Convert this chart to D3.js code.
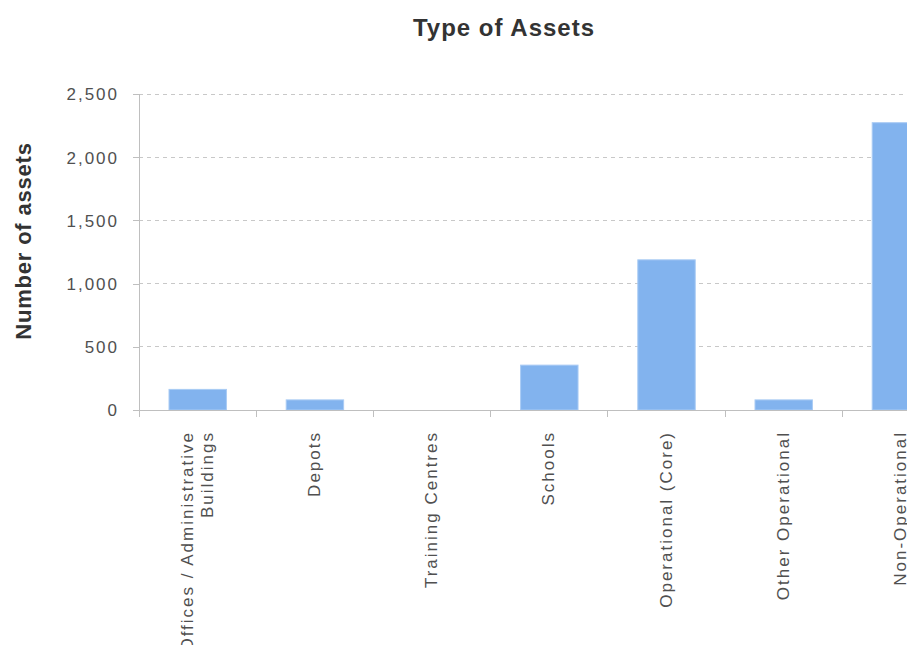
<!DOCTYPE html>
<html>
<head>
<meta charset="utf-8">
<script src="https://cdn.jsdelivr.net/npm/d3@7"></script>
<style>
  html, body { margin: 0; padding: 0; background: #fff; overflow: hidden; }
  text { font-family: "Liberation Sans", Arial, sans-serif; }
</style>
</head>
<body>
<script>
const title = "Type of Assets";
const yTitle = "Number of assets";
const categories = [
  ["Offices / Administrative", "Buildings"],
  ["Depots"],
  ["Training Centres"],
  ["Schools"],
  ["Operational (Core)"],
  ["Other Operational"],
  ["Non-Operational"]
];
const values = [163, 80, 0, 355, 1188, 80, 2273];
const yTicks = [0, 500, 1000, 1500, 2000, 2500];

const W = 907, H = 645;
const plotLeft = 139, bandStep = 117.2, plotTop = 94, plotBottom = 410;
const keys = categories.map(c => c.join(" "));

const svg = d3.select("body").append("svg")
  .attr("width", W).attr("height", H)
  .style("display", "block");

const x = d3.scaleBand().domain(keys).range([plotLeft, plotLeft + bandStep * keys.length]).padding(0);
const y = d3.scaleLinear().domain([0, 2500]).range([plotBottom, plotTop]);
const fmt = d3.format(",");

// gridlines
svg.append("g").selectAll("line").data(yTicks.filter(d => d > 0)).join("line")
  .attr("x1", plotLeft).attr("x2", x.range()[1])
  .attr("y1", d => y(d)).attr("y2", d => y(d))
  .attr("stroke", "#c8c8c8").attr("stroke-width", 1)
  .attr("stroke-dasharray", "4,4")
  .attr("shape-rendering", "crispEdges");

// y axis
const yAxis = d3.axisLeft(y).tickValues(yTicks).tickFormat(fmt).tickSize(6).tickPadding(18);
const gy = svg.append("g").attr("transform", `translate(${plotLeft},0)`).call(yAxis);
gy.select(".domain").remove();
gy.selectAll(".tick line").attr("stroke", "#bfbfbf").attr("shape-rendering", "crispEdges");
gy.selectAll(".tick text")
  .attr("fill", "#505050").style("font-size", "17px").style("letter-spacing", "2px")
  .attr("x", -20).attr("dy", "0.35em");
svg.append("line").attr("x1", plotLeft).attr("x2", plotLeft).attr("y1", plotTop).attr("y2", plotBottom + 7)
  .attr("stroke", "#bfbfbf").attr("shape-rendering", "crispEdges");

// bars
svg.append("g").selectAll("rect").data(values).join("rect")
  .attr("x", (d, i) => x(keys[i]) + x.bandwidth() * 0.256)
  .attr("width", x.bandwidth() * 0.49)
  .attr("y", d => y(d))
  .attr("height", d => y(0) - y(d))
  .attr("fill", "#82b3ee")
  .attr("stroke", "#a9cbf4").attr("stroke-width", 1);

// x axis
svg.append("line").attr("x1", plotLeft - 6).attr("x2", x.range()[1]).attr("y1", plotBottom).attr("y2", plotBottom)
  .attr("stroke", "#bfbfbf").attr("shape-rendering", "crispEdges");
svg.append("g").selectAll("line").data(keys).join("line")
  .attr("x1", d => x(d) + x.step())
  .attr("x2", d => x(d) + x.step())
  .attr("y1", plotBottom).attr("y2", plotBottom + 7)
  .attr("stroke", "#bfbfbf").attr("shape-rendering", "crispEdges");

// x labels
const xl = svg.append("g").selectAll("text").data(categories).join("text")
  .attr("transform", (d, i) => `translate(${x(keys[i]) + x.bandwidth() / 2},431) rotate(-90)`)
  .attr("text-anchor", "end")
  .attr("fill", "#505050").style("font-size", "17px").style("letter-spacing", "2px");
xl.each(function(lines) {
  const t = d3.select(this);
  if (lines.length === 1) {
    t.append("tspan").attr("x", 0).attr("dy", "0.3em").text(lines[0]);
  } else {
    t.append("tspan").attr("x", 0).attr("dy", "-0.28em").text(lines[0]);
    t.append("tspan").attr("x", 0).attr("dy", "1.2em").text(lines[1]);
  }
});

// title
svg.append("text").attr("x", 504).attr("y", 36).attr("text-anchor", "middle")
  .attr("fill", "#333").style("font-size", "24px").style("font-weight", "bold")
  .style("letter-spacing", "1px").text(title);

// y title
svg.append("text").attr("transform", "translate(31,241) rotate(-90)")
  .attr("text-anchor", "middle")
  .attr("fill", "#333").style("font-size", "22px").style("font-weight", "bold")
  .style("letter-spacing", "0.8px").text(yTitle);
</script>
</body>
</html>
